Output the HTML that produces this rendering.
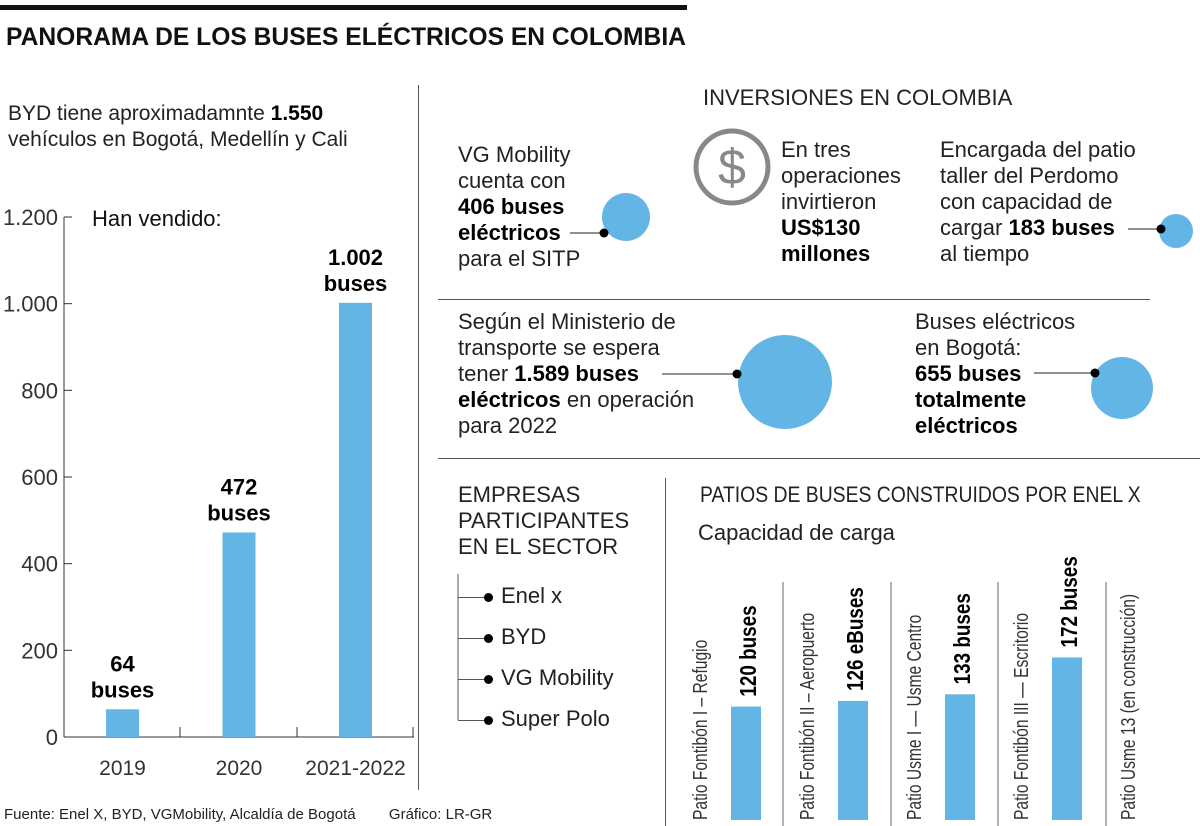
<!DOCTYPE html>
<html><head><meta charset="utf-8">
<style>
body{margin:0;width:1200px;height:826px;background:#fff;position:relative;overflow:hidden;font-family:"Liberation Sans",sans-serif;color:#222}
.t{position:absolute;font-size:22px;line-height:26px;white-space:nowrap}
b{font-weight:bold;color:#000}
.hl{position:absolute;background:#555;height:1px}
.vl{position:absolute;background:#555;width:1px}
</style></head><body>
<div style="position:absolute;left:0;top:5px;width:687px;height:5px;background:#111"></div>
<div class="t" style="left:6px;top:24px;font-size:25px;font-weight:bold;color:#111;transform:scaleX(.985);transform-origin:left">PANORAMA DE LOS BUSES ELÉCTRICOS EN COLOMBIA</div>
<div class="vl" style="left:418px;top:85px;height:705px"></div>
<div class="t" style="left:8px;top:101px;font-size:21px">BYD tiene aproximadamnte <b>1.550</b><br>vehículos en Bogotá, Medellín y Cali</div>

<svg id="left" style="position:absolute;left:0;top:190px" width="418" height="610"></svg>

<div class="t" style="left:4px;top:806px;font-size:15px;line-height:18px">Fuente: Enel X, BYD, VGMobility, Alcaldía de Bogotá&nbsp;&nbsp;&nbsp;&nbsp;&nbsp;&nbsp;&nbsp;&nbsp;Gráfico: LR-GR</div>

<div class="t" style="left:703px;top:85px">INVERSIONES EN COLOMBIA</div>

<div class="t" style="left:458px;top:142px">VG Mobility<br>cuenta con<br><b>406 buses<br>eléctricos</b><br>para el SITP</div>
<svg style="position:absolute;left:692px;top:127px" width="80" height="80"><circle cx="40" cy="40" r="36" fill="none" stroke="#888" stroke-width="5"/><text x="40" y="57" text-anchor="middle" font-size="50" fill="#888" font-family="Liberation Sans">$</text></svg>
<div class="t" style="left:781px;top:137px">En tres<br>operaciones<br>invirtieron<br><b>US$130<br>millones</b></div>
<div class="t" style="left:940px;top:137px">Encargada del patio<br>taller del Perdomo<br>con capacidad de<br>cargar <b>183 buses</b><br>al tiempo</div>
<div class="hl" style="left:438px;top:299px;width:712px"></div>
<div class="t" style="left:458px;top:309px">Según el Ministerio de<br>transporte se espera<br>tener <b>1.589 buses<br>eléctricos</b> en operación<br>para 2022</div>
<div class="t" style="left:915px;top:309px">Buses eléctricos<br>en Bogotá:<br><b>655 buses<br>totalmente<br>eléctricos</b></div>
<svg style="position:absolute;left:0;top:0" width="1200" height="460">
<circle cx="626" cy="217" r="24" fill="#62b5e5"/>
<line x1="570" y1="233" x2="604" y2="233" stroke="#222"/><circle cx="604" cy="233" r="4.5" fill="#000"/>
<circle cx="1176" cy="231" r="17" fill="#62b5e5"/>
<line x1="1128" y1="229" x2="1161" y2="229" stroke="#222"/><circle cx="1161" cy="229" r="4.5" fill="#000"/>
<circle cx="785" cy="382" r="47" fill="#62b5e5"/>
<line x1="662" y1="374" x2="737" y2="374" stroke="#222"/><circle cx="737" cy="374" r="4.5" fill="#000"/>
<circle cx="1122" cy="388" r="31" fill="#62b5e5"/>
<line x1="1034" y1="373" x2="1095" y2="373" stroke="#222"/><circle cx="1095" cy="373" r="4.5" fill="#000"/>
</svg>
<div class="hl" style="left:438px;top:458px;width:762px"></div>
<div class="vl" style="left:665px;top:478px;height:348px"></div>
<div class="t" style="left:458px;top:482px">EMPRESAS<br>PARTICIPANTES<br>EN EL SECTOR</div>
<svg style="position:absolute;left:450px;top:570px" width="12" height="160"><line x1="8" y1="4" x2="8" y2="150" stroke="#555"/></svg>
<div id="companies"></div>
<div class="t" style="left:700px;top:482px;transform:scaleX(.88);transform-origin:left">PATIOS DE BUSES CONSTRUIDOS POR ENEL X</div>
<div class="t" style="left:698px;top:520px">Capacidad de carga</div>
<svg id="right" style="position:absolute;left:680px;top:550px" width="520" height="276"></svg>

<script>
const years=["2019","2020","2021-2022"];
const sold=[64,472,1002];
const soldLabels=["64","472","1.002"];
const yTicks=[0,200,400,600,800,1000,1200];
const yTickLabels=["0","200","400","600","800","1.000","1.200"];

const patios=["Patio Fontibón I – Refugio","Patio Fontibón II – Aeropuerto","Patio Usme I — Usme Centro","Patio Fontibón III — Escritorio","Patio Usme 13 (en construcción)"];
const capacity=[120,126,133,172,null];
const capLabels=["120 buses","126 eBuses","133 buses","172 buses",""];

const companies=["Enel x","BYD","VG Mobility","Super Polo"];

const NS="http://www.w3.org/2000/svg";
function mk(svg,tag,attrs,txt){const e=document.createElementNS(NS,tag);for(const k in attrs)e.setAttribute(k,attrs[k]);if(txt!==undefined)e.textContent=txt;svg.appendChild(e);return e;}

const L=document.getElementById('left');
const y0=737-190, yTop=217-190;
const ys=v=>y0-(v/1200)*(y0-yTop);
const xs=i=>106+i*116.5;
mk(L,'line',{x1:64,y1:yTop,x2:64,y2:y0,stroke:'#333'});
mk(L,'line',{x1:64,y1:y0,x2:414,y2:y0,stroke:'#333'});
yTicks.forEach((t,i)=>{
  mk(L,'line',{x1:64,y1:ys(t),x2:72,y2:ys(t),stroke:'#333'});
  const tx=mk(L,'text',{x:58,y:ys(t)+8,'text-anchor':'end','font-size':22,fill:'#333','font-family':'Liberation Sans'},yTickLabels[i]);
  
  
});
[180,297,413].forEach(x=>mk(L,'line',{x1:x,y1:y0-10,x2:x,y2:y0,stroke:'#333'}));
mk(L,'text',{x:92,y:36,'font-size':22,fill:'#111','font-family':'Liberation Sans'},"Han vendido:");
sold.forEach((v,i)=>{
  const x=xs(i);
  const r=mk(L,'rect',{x:x,y:ys(v),width:33,height:y0-ys(v),fill:'#62b5e5'});
  
  
  mk(L,'text',{x:x+16.5,y:ys(v)-38,'text-anchor':'middle','font-size':22,'font-weight':'bold',fill:'#000','font-family':'Liberation Sans'},soldLabels[i]);
  mk(L,'text',{x:x+16.5,y:ys(v)-12,'text-anchor':'middle','font-size':22,'font-weight':'bold',fill:'#000','font-family':'Liberation Sans'},"buses");
  const xl=mk(L,'text',{x:x+16.5,y:y0+38,'text-anchor':'middle','font-size':21,fill:'#333','font-family':'Liberation Sans'},years[i]);
  
  
});

const C=document.getElementById('companies');
companies.forEach((c,i)=>{
  const y=596+i*41;
  const d=document.createElement('div');
  d.className='t';
  d.style.left='458px';d.style.top=(y-13)+'px';
  d.innerHTML='<span style="display:inline-block;width:30px;height:1px;background:#555;vertical-align:middle"></span><span style="display:inline-block;width:9px;height:9px;border-radius:50%;background:#000;vertical-align:middle;margin:0 8px 0 -4px"></span>'+c;
  
  
  C.appendChild(d);
});

const R=document.getElementById('right');
const base=270, k=0.945;
const rx=i=>51+i*107;
[103,211,318,426].forEach(x=>mk(R,'line',{x1:x,y1:32,x2:x,y2:276,stroke:'#666'}));
patios.forEach((p,i)=>{
  const x=rx(i);
  const lab=mk(R,'text',{x:0,y:0,transform:`translate(${x-24},${base}) rotate(-90) scale(0.78,1)`,'font-size':20,fill:'#333','font-family':'Liberation Sans'},p);
  
  
  if(capacity[i]!=null){
    const v=capacity[i];
    const r=mk(R,'rect',{x:x,y:base-v*k,width:30,height:v*k,fill:'#62b5e5'});
    
    
    mk(R,'text',{x:0,y:0,transform:`translate(${x+25},${base-v*k-10}) rotate(-90) scale(0.82,1)`,'font-size':23,'font-weight':'bold',fill:'#000','font-family':'Liberation Sans'},capLabels[i]);
  }
});
</script>
</body></html>
